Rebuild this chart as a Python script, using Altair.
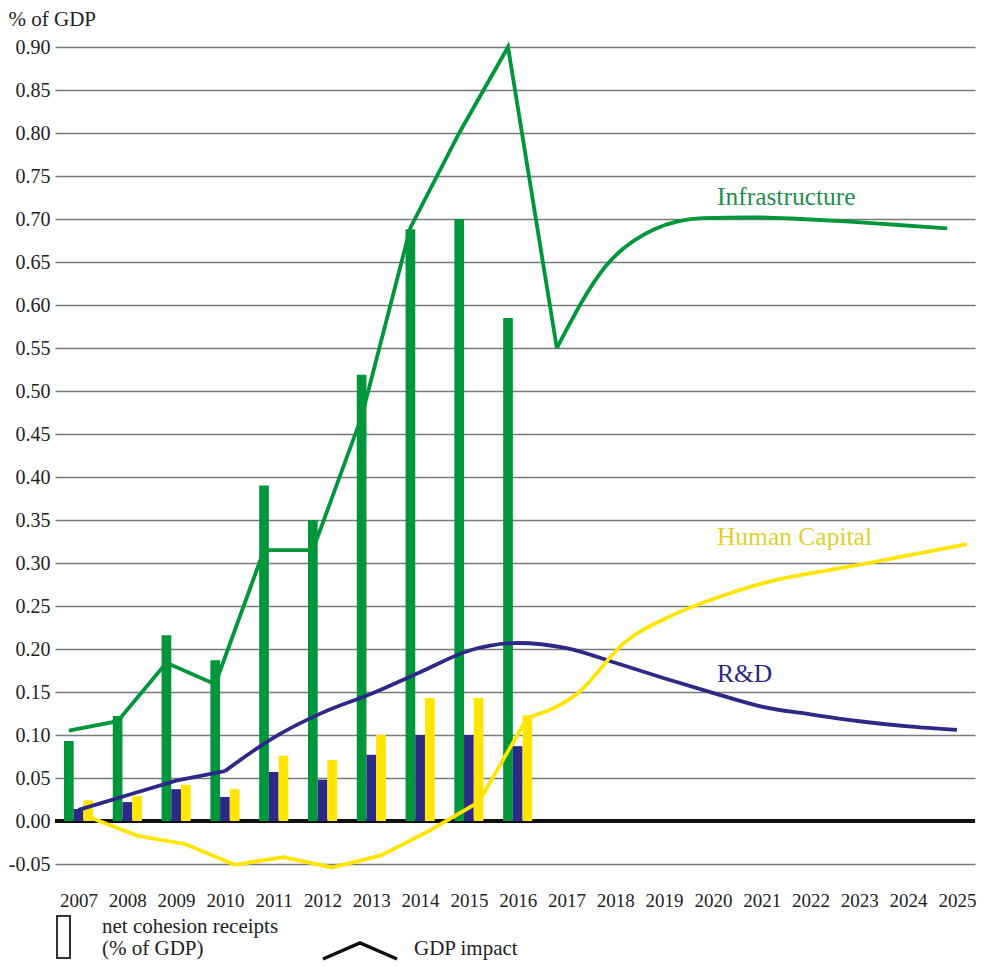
import altair as alt
import pandas as pd

# ---------------- data ----------------
years_bar = list(range(2007, 2017))
infra_receipts = [0.093, 0.122, 0.216, 0.187, 0.390, 0.350, 0.519, 0.688, 0.700, 0.585]
rd_receipts = [0.014, 0.022, 0.037, 0.028, 0.057, 0.048, 0.077, 0.100, 0.100, 0.087]
hc_receipts = [0.024, 0.029, 0.042, 0.037, 0.076, 0.071, 0.100, 0.143, 0.143, 0.123]

years_line = list(range(2007, 2026))
infra_impact = [0.105, 0.116, 0.184, 0.159, 0.315, 0.315, 0.470, 0.690, 0.800, 0.900,
                0.550, 0.645, 0.688, 0.701, 0.702, 0.700, 0.697, 0.693, 0.689]
rd_impact = [0.013, 0.030, 0.047, 0.058, 0.097, 0.126, 0.148, 0.173, 0.198, 0.207,
             0.201, 0.184, 0.166, 0.149, 0.133, 0.124, 0.116, 0.110, 0.106]
hc_impact = [0.005, -0.017, -0.027, -0.051, -0.042, -0.054, -0.040, -0.011, 0.022, 0.120,
             0.147, 0.208, 0.240, 0.262, 0.279, 0.290, 0.300, 0.311, 0.322]

series_names = ["Infrastructure", "R&D", "Human Capital"]
series_colors = ["#00963c", "#2d2a87", "#ffe500"]
label_colors = ["#1e8f4c", "#2d2a87", "#e3cf2f"]
label_sizes = [25.5, 25.5, 25.5]
# year from which the simulated path is drawn smoothed
smooth_from = [2017, 2010, 2016]
label_year = [2020, 2020, 2020]
label_value = [0.716, 0.162, 0.321]

y_ticks = [round(-0.05 + 0.05 * i, 2) for i in range(20)]

legend_bar_text = ["net cohesion receipts", "(% of GDP)"]
legend_line_text = "GDP impact"

# ---------------- layout ----------------
W, H = 920, 817
BW = 9.7
FONT = "Liberation Serif"

x_scale = alt.Scale(domain=[2006.518, 2025.371], nice=False, zero=False, padding=0)
y_scale = alt.Scale(domain=[-0.05, 0.90], nice=False, zero=False, padding=0)

x_axis = alt.Axis(values=years_line, format="d", grid=False, ticks=False, domain=False,
                  labelFont=FONT, labelFontSize=19, labelColor="#222222",
                  labelPadding=27, title=None)
y_axis = alt.Axis(values=y_ticks, grid=True, gridColor="#7a7a7a", gridWidth=1.3,
                  ticks=False, domain=False, labelFont=FONT, labelFontSize=20,
                  labelColor="#222222", labelPadding=5,
                  labelExpr="datum.value < 0 ? '-' + format(-datum.value, '.2f') : format(datum.value, '.2f')",
                  title="% of GDP", titleAngle=0, titleAlign="left", titleBaseline="top",
                  titleX=-47, titleY=-39, titleFont=FONT, titleFontSize=21,
                  titleFontWeight="normal", titleColor="#222222")


def X():
    return alt.X("year:Q", scale=x_scale, axis=x_axis)


def Y():
    return alt.Y("value:Q", scale=y_scale, axis=y_axis)


bar_values = [infra_receipts, rd_receipts, hc_receipts]
line_values = [infra_impact, rd_impact, hc_impact]
offsets = [-BW, 0, BW]

layers = []

# zero line
layers.append(
    alt.Chart(pd.DataFrame({"year": [2007], "value": [0.0]}))
    .mark_rule(color="#111111", strokeWidth=4)
    .encode(y=Y())
)

# bars
for name, vals, col, off in zip(series_names, bar_values, series_colors, offsets):
    df = pd.DataFrame({"year": years_bar, "value": vals})
    layers.append(
        alt.Chart(df).mark_bar(size=BW, xOffset=off, color=col)
        .encode(x=X(), y=Y(), y2=alt.datum(0))
    )

# lines (draw order: R&D, Infrastructure, Human Capital)
for idx in [1, 0, 2]:
    name, vals, col, off = series_names[idx], line_values[idx], series_colors[idx], offsets[idx]
    df = pd.DataFrame({"year": years_line, "value": vals})
    split = smooth_from[idx]
    hist = df[df["year"] <= split]
    proj = df[df["year"] >= split]
    sw = 3.8
    layers.append(
        alt.Chart(hist).mark_line(color=col, strokeWidth=sw, xOffset=off,
                                  interpolate="linear", strokeJoin="miter")
        .encode(x=X(), y=Y())
    )
    layers.append(
        alt.Chart(proj).mark_line(color=col, strokeWidth=sw, xOffset=off,
                                  interpolate="monotone")
        .encode(x=X(), y=Y())
    )

# series labels
lab_df = pd.DataFrame({"year": label_year, "value": label_value,
                       "label": series_names, "color": label_colors,
                       "fs": label_sizes})
layers.append(
    alt.Chart(lab_df).mark_text(align="left", baseline="alphabetic", font=FONT, dx=4)
    .encode(x=X(), y=Y(), text="label:N",
            color=alt.Color("color:N", scale=None),
            size=alt.Size("fs:Q", scale=None))
)

# legend: bar symbol
layers.append(
    alt.Chart(pd.DataFrame({"k": [0]})).mark_rect(fill="white", stroke="#333333", strokeWidth=2)
    .encode(x=alt.value(2), x2=alt.value(15), y=alt.value(869), y2=alt.value(911))
)
layers.append(
    alt.Chart(pd.DataFrame({"k": [0]})).mark_text(align="left", baseline="alphabetic",
                                                 font=FONT, fontSize=21, color="#222222",
                                                 lineHeight=22)
    .encode(x=alt.value(47), y=alt.value(886), text=alt.value(legend_bar_text))
)
# legend: line symbol
layers.append(
    alt.Chart(pd.DataFrame({"k": [0]}))
    .mark_point(shape="M-1,0.216L0,-0.216L1,0.216", filled=False, size=5476,
                strokeWidth=3.5, color="#111111", opacity=1)
    .encode(x=alt.value(305), y=alt.value(904))
)
layers.append(
    alt.Chart(pd.DataFrame({"k": [0]})).mark_text(align="left", baseline="alphabetic",
                                                 font=FONT, fontSize=21, color="#222222")
    .encode(x=alt.value(359), y=alt.value(908), text=alt.value(legend_line_text))
)

chart = (
    alt.layer(*layers)
    .properties(width=W, height=H, padding=0, background="white")
    .configure_view(stroke=None)
)

chart.save("out.html", embed_options={"renderer": "svg", "actions": False})
